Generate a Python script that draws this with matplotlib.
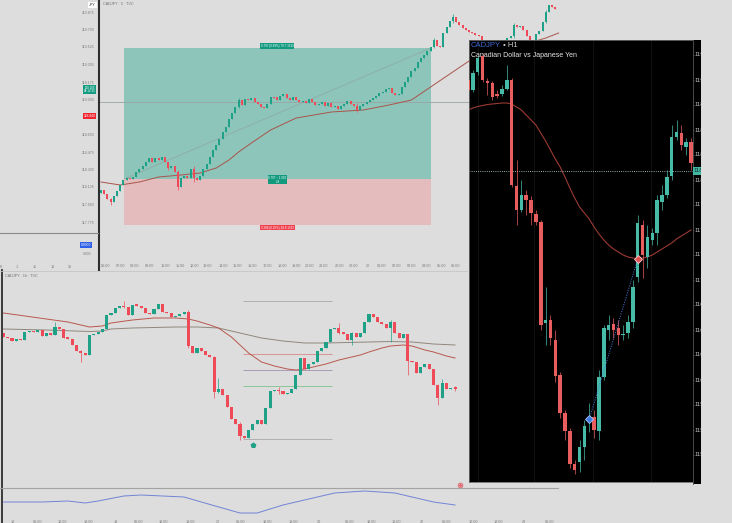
import matplotlib
matplotlib.use("Agg")
import matplotlib.pyplot as plt
import numpy as np

plt.rcParams['font.family'] = ['Liberation Sans', 'DejaVu Sans']

W, H = 732, 523
BG = '#dddddd'
UP, DN = '#1fa187', '#ee4a57'
UP_K, DN_K = '#45bba8', '#e85d5d'

# ---------------- 5-minute chart (top middle) ----------------
mid_first_open = 118.07
mid_close = [118.10, 118.06, 118.01, 117.98, 118.04, 118.09, 118.15, 118.20, 118.22, 118.21,
             118.23, 118.28, 118.31, 118.34, 118.38, 118.42, 118.38, 118.42, 118.40, 118.43,
             118.38, 118.32, 118.34, 118.28, 118.13, 118.22, 118.24, 118.22, 118.31, 118.22,
             118.20, 118.24, 118.31, 118.36, 118.43, 118.50, 118.55, 118.61, 118.68, 118.73,
             118.81, 118.87, 118.93, 119.00, 118.95, 119.01, 119.00, 119.02, 118.98, 118.96,
             118.93, 118.92, 118.96, 119.03, 119.025, 119.00, 119.04, 119.06, 119.02, 119.00,
             119.03, 119.00, 118.98, 118.99, 118.97, 119.01, 118.98, 118.95, 118.96, 118.98,
             118.94, 118.97, 118.93, 118.94, 118.91, 118.94, 118.96, 118.99, 118.96, 118.94,
             118.90, 118.94, 118.96, 118.98, 119.00, 119.02, 119.04, 119.07, 119.08, 119.11,
             119.12, 119.07, 119.05, 119.06, 119.13, 119.18, 119.23, 119.29, 119.32, 119.38,
             119.42, 119.45, 119.49, 119.53, 119.60, 119.54, 119.53, 119.67, 119.73, 119.79,
             119.83, 119.78, 119.75, 119.72, 119.70, 119.68, 119.67, 119.65, 119.64, 119.58,
             119.54, 119.50, 119.52, 119.48, 119.50, 119.54, 119.58, 119.62, 119.64, 119.75,
             119.73, 119.74, 119.70, 119.64, 119.58, 119.60, 119.66, 119.69, 119.78, 119.88,
             119.95, 119.93, 119.91]
mid_wick_idx = [3, 21, 24, 29, 43, 80, 104, 110, 129, 139]
mid_wick_hi = [118.02, 118.35, 118.30, 118.34, 119.02, 118.97, 119.62, 119.86, 119.77, 119.90]
mid_wick_lo = [117.95, 118.30, 118.10, 118.18, 118.92, 118.88, 119.52, 119.77, 119.62, 119.77]
mid_ma_idx = [0, 6, 12, 18, 25, 31, 36, 40, 43, 47, 53, 61, 72, 82, 90, 97, 103, 109, 115, 139, 143]
mid_ma = [118.18, 118.15, 118.18, 118.23, 118.25, 118.27, 118.32, 118.40, 118.48, 118.57,
          118.70, 118.82, 118.88, 118.90, 118.95, 119.00, 119.13, 119.26, 119.39, 119.62, 119.67]
mid_level = 118.985
pos_start, pos_end = 7.2, 103.1
pos_entry, pos_tp, pos_sl = 118.21, 119.52, 117.75
pos_labels = ['0.797 (0.69%) 79.7 3333', '0.797 \u00f7 1.000\n2.8', '0.288 (0.25%) 28.8 1333']
mid_time_pos = [1.6, 6.2, 10.6, 15.3, 20.0, 24.7, 29.1, 33.4, 38.1, 42.5, 47.2, 51.9, 56.6,
                60.9, 65.3, 69.7, 74.4, 78.8, 83.4, 87.8, 92.5, 97.2, 101.9, 106.3, 110.9]
mid_time_labels = ['06:00', '07:00', '08:00', '09:00', '10:00', '11:00', '12:00', '13:00',
                   '14:00', '15:00', '16:00', '17:00', '18:00', '19:00', '20:00', '21:00',
                   '22:00', '23:00', '20', '01:00', '02:00', '03:00', '04:00', '05:00', '06:00']

# ---------------- left panel price scale ----------------
left_ticks = [119.875, 119.700, 119.525, 119.350, 119.175, 119.000,
              118.650, 118.475, 118.300, 118.125, 117.950, 117.775]
left_last_price = 119.105
left_red_price = 118.840
left_day_pos = [1, 17, 35, 53, 70]
left_day_labels = ['29', '1', '11', '18', '25']

# ---------------- H1 chart (black) ----------------
k_open = [119.20, 119.10, 119.28, 119.44, 119.19, 119.17, 119.06, 119.06, 119.11, 119.20,
          118.14, 117.90, 118.05, 118.00, 117.86, 117.78, 116.77, 116.80, 116.60, 116.25,
          115.87, 115.69, 115.36, 115.38, 115.53, 115.80, 115.83, 115.69, 116.23, 116.70,
          116.76, 116.72, 116.65, 116.67, 116.78, 117.23, 117.75, 117.43, 117.60, 117.67,
          117.98, 118.05, 118.24, 118.63, 118.67, 118.53, 118.58]
k_close = [119.10, 119.27, 119.42, 119.20, 119.17, 119.03, 119.04, 119.11, 119.20, 118.15,
           117.90, 118.05, 118.00, 117.87, 117.78, 116.75, 116.80, 116.62, 116.24, 115.87,
           115.69, 115.36, 115.30, 115.53, 115.74, 115.82, 115.70, 116.23, 116.72, 116.75,
           116.70, 116.65, 116.66, 116.78, 117.13, 117.77, 117.45, 117.63, 117.67, 118.00,
           118.05, 118.23, 118.63, 118.68, 118.55, 118.58, 118.37]
k_high = [119.22, 119.30, 119.45, 119.47, 119.22, 119.19, 119.10, 119.15, 119.35, 119.22,
          118.40, 118.20, 118.10, 118.04, 117.90, 117.80, 117.13, 116.85, 116.70, 116.28,
          115.90, 115.72, 115.40, 115.60, 115.80, 115.97, 115.90, 116.30, 116.75, 116.85,
          116.82, 116.80, 116.75, 116.85, 117.20, 117.85, 117.80, 117.75, 117.72, 118.05,
          118.15, 118.30, 118.75, 118.80, 118.75, 118.62, 118.62]
k_low = [119.08, 119.08, 119.25, 119.18, 119.05, 119.00, 119.02, 119.04, 119.10, 118.13,
         117.75, 117.88, 117.85, 117.75, 117.75, 116.70, 116.55, 116.55, 116.18, 115.82,
         115.60, 115.32, 115.26, 115.28, 115.40, 115.68, 115.62, 115.60, 116.20, 116.60,
         116.62, 116.55, 116.60, 116.62, 116.72, 117.18, 117.22, 117.32, 117.55, 117.55,
         117.90, 118.02, 118.20, 118.60, 118.50, 118.45, 118.30]
k_ma = [118.90, 118.92, 118.935, 118.945, 118.955, 118.96, 118.965, 118.97, 118.97, 118.96,
        118.93, 118.90, 118.85, 118.80, 118.75, 118.67, 118.59, 118.50, 118.41, 118.33,
        118.23, 118.12, 118.02, 117.93, 117.87, 117.81, 117.73, 117.66, 117.60, 117.55,
        117.51, 117.48, 117.45, 117.43, 117.42, 117.415, 117.42, 117.43, 117.45, 117.48,
        117.51, 117.54, 117.57, 117.61, 117.64, 117.67, 117.70]
k_ticks = [119.45, 119.20, 118.95, 118.70, 118.45, 118.20, 117.95, 117.70, 117.45,
           117.20, 116.95, 116.70, 116.45, 116.20, 115.95, 115.70, 115.45]
k_last = 118.29
k_signal_idx = [25, 35]
k_signal_price = [115.81, 117.41]
k_grid = [2.06, 13.6, 25.8, 37.7]

# ---------------- 1h chart (bottom) ----------------
bot_first_open = 116.67
bot_close = [116.63, 116.62, 116.59, 116.61, 116.60, 116.68, 116.69, 116.68, 116.70, 116.64,
             116.67, 116.65, 116.73, 116.71, 116.62, 116.615, 116.55, 116.49, 116.47, 116.45,
             116.65, 116.66, 116.68, 116.71, 116.85, 116.87, 116.92, 116.94, 116.93, 116.85,
             116.95, 116.945, 116.92, 116.87, 116.86, 116.91, 116.96, 116.88, 116.87, 116.83,
             116.84, 116.86, 116.88, 116.54, 116.47, 116.52, 116.49, 116.45, 116.43, 116.08,
             116.11, 116.05, 115.93, 115.81, 115.76, 115.64, 115.62, 115.70, 115.76, 115.80,
             115.76, 115.92, 116.09, 116.10, 116.09, 116.06, 116.07, 116.11, 116.25, 116.42,
             116.31, 116.36, 116.38, 116.49, 116.52, 116.58, 116.71, 116.72, 116.67, 116.665,
             116.60, 116.67, 116.63, 116.67, 116.78, 116.86, 116.83, 116.78, 116.76, 116.72,
             116.78, 116.67, 116.62, 116.66, 116.39, 116.38, 116.27, 116.33, 116.36, 116.31,
             116.15, 116.02, 116.17, 116.11, 116.12, 116.115]
bot_wick_idx = [12, 18, 28, 43, 49, 50, 55, 64, 78, 81, 90, 94, 101, 102, 105]
bot_wick_hi = [116.78, 116.50, 116.99, 116.90, 116.44, 116.22, 115.78, 116.13, 116.77, 116.68,
               116.80, 116.42, 116.16, 116.21, 116.14]
bot_wick_lo = [116.70, 116.38, 116.92, 116.52, 116.02, 116.07, 115.60, 116.06, 116.66, 116.55,
               116.58, 116.25, 115.95, 116.02, 116.09]
bot_fast_idx = [0, 5, 10, 15, 20, 23, 25, 30, 35, 40, 43, 45, 48, 50, 53, 55, 57, 60, 63, 66,
                68, 70, 72, 75, 78, 80, 83, 85, 88, 90, 93, 95, 98, 100, 103, 105]
bot_fast = [116.87, 116.84, 116.81, 116.78, 116.73, 116.74, 116.77, 116.80, 116.82, 116.82,
            116.81, 116.79, 116.75, 116.72, 116.63, 116.55, 116.47, 116.38, 116.34, 116.31,
            116.30, 116.31, 116.33, 116.36, 116.40, 116.42, 116.45, 116.48, 116.52, 116.54,
            116.55, 116.54, 116.50, 116.48, 116.44, 116.42]
bot_slow_idx = [0, 10, 20, 23, 25, 30, 35, 40, 45, 50, 55, 58, 60, 65, 70, 75, 80, 85, 90, 95, 100, 105]
bot_slow = [116.71, 116.70, 116.685, 116.69, 116.71, 116.72, 116.725, 116.73, 116.73, 116.72,
            116.67, 116.64, 116.62, 116.59, 116.57, 116.57, 116.575, 116.58, 116.585, 116.58,
            116.56, 116.55]
bot_levels = [116.99, 116.46, 116.30, 116.14, 115.61]
bot_level_colors = ['#a9a9a9', '#d98888', '#a38fae', '#7fc48e', '#a9a9a9']
bot_level_span = (55.6, 76.5)
bot_arrow_idx, bot_arrow_price = 58, 115.55
ind_idx = [0, 9, 15, 19, 22, 28, 32, 42, 46, 55, 59, 65, 73, 77, 84, 91, 96, 100, 105]
ind_val = [18, 18, 19, 17, 19, 24, 25, 23, 18, 7, 7, 15, 23, 27, 29, 27, 22, 18, 15]
bot_time_pos = [2.1, 7.9, 13.7, 19.8, 26.0, 31.4, 37.2, 43.5, 49.8, 55.1, 61.4, 67.4, 73.3,
                80.5, 85.6, 91.4, 97.2, 103.0, 109.3, 115.1, 120.9, 127.0]
bot_time_labels = ['18', '06:00', '12:00', '18:00', '19', '06:00', '12:00', '18:00', '20',
                   '06:00', '12:00', '18:00', '21', '06:00', '12:00', '18:00', '22', '06:00',
                   '12:00', '18:00', '23', '06:00']

# ---------------- helpers ----------------
fig = plt.figure(figsize=(W / 100, H / 100), dpi=100)
fig.patch.set_facecolor(BG)


def px_axes(x0, y0, x1, y1, z=1):
    ax = fig.add_axes([x0 / W, 1 - y1 / H, (x1 - x0) / W, (y1 - y0) / H])
    ax.set_zorder(z)
    for s in ax.spines.values():
        s.set_visible(False)
    ax.set_facecolor(BG)
    ax.tick_params(length=0, labelsize=2.7, colors='#7d7d7d', pad=1.5)
    ax.set_yticks([])
    ax.set_xticks([])
    return ax


def candles(ax, opens, closes, highs, lows, width, up, dn, minh, z=3):
    o = np.asarray(opens, float)
    c = np.asarray(closes, float)
    x = np.arange(len(c))
    cols = np.where(c >= o, up, dn)
    ax.vlines(x, lows, highs, colors=cols, lw=0.5, zorder=z)
    ax.bar(x, np.maximum(np.abs(c - o), minh), width, np.minimum(o, c),
           color=cols, linewidth=0, zorder=z + 0.1)


def ohlc_from_closes(first_open, closes, widx, whi, wlo):
    c = np.asarray(closes, float)
    o = np.concatenate([[first_open], c[:-1]])
    hi = np.maximum(o, c)
    lo = np.minimum(o, c)
    hi[widx] = np.maximum(hi[widx], whi)
    lo[widx] = np.minimum(lo[widx], wlo)
    return o, c, hi, lo


# ---------------- frame lines (layout) ----------------
frame = fig.add_axes([0, 0, 1, 1])
frame.set_xlim(0, W)
frame.set_ylim(H, 0)
frame.axis('off')
frame.set_zorder(10)
frame.plot([98.7, 98.7], [0, 270], color='#2e2e2e', lw=1.5)
frame.plot([0, 98], [233, 233], color='#8a8a8a', lw=0.8)
frame.plot([1.8, 1.8], [270, 523], color='#2e2e2e', lw=1.3)
frame.plot([0, 558], [488, 488], color='#a3a3a3', lw=0.8)
frame.plot([0, 467], [271, 271], color='#c6c6c6', lw=0.6)

# ---------------- left panel ----------------
axl = px_axes(0, 0, 98, 262)
axl.set_ylim(117.38, 120.00)
axl.set_xlim(0, 98)
for t in left_ticks:
    axl.text(95, t, f'{t:.3f}', ha='right', va='center', fontsize=2.6, color='#7d7d7d')
axl.text(95.5, left_last_price, f'{left_last_price:.3f}\n04:12:35', ha='right', va='center',
         fontsize=2.2, color='white', linespacing=0.9,
         bbox=dict(facecolor='#139c80', edgecolor='none', pad=0.6))
axl.text(95.5, left_red_price, f'{left_red_price:.3f}', ha='right', va='center',
         fontsize=2.4, color='white', bbox=dict(facecolor='#f0242f', edgecolor='none', pad=0.6))
axl.text(0.975, 0.99, 'JPY', transform=axl.transAxes, ha='right', va='top', fontsize=2.6,
         color='#222222', bbox=dict(facecolor='white', edgecolor='none', pad=0.7))
axl.text(0.93, 0.065, '0.0000', transform=axl.transAxes, ha='right', va='center',
         fontsize=2.4, color='white', bbox=dict(facecolor='#2f5fe8', edgecolor='none', pad=0.5))
axl.text(0.93, 0.03, '0.000', transform=axl.transAxes, ha='right', va='center',
         fontsize=2.4, color='#7d7d7d')
axl.set_xticks(left_day_pos)
axl.set_xticklabels(left_day_labels)
axl.tick_params(axis='x', pad=2)

# ---------------- middle 5m chart ----------------
axm = px_axes(100, 0, 701, 262)
axm.set_ylim(117.38, 120.00)
axm.set_xlim(-0.31, 187.5)
axm.fill_between([pos_start, pos_end], pos_entry, pos_tp, color='#8dc5ba', lw=0, zorder=1)
axm.fill_between([pos_start, pos_end], pos_sl, pos_entry, color='#e4bcbe', lw=0, zorder=1)
axm.axhline(mid_level, color='#9aa4a4', lw=0.6, zorder=1.5)
axm.plot([pos_start, pos_end], [pos_entry, pos_tp], color='#8ea8a2', lw=0.5, zorder=1.6)
axm.plot(mid_ma_idx, mid_ma, color='#a9544b', lw=0.7, zorder=2)
mo, mc, mh, ml = ohlc_from_closes(mid_first_open, mid_close, mid_wick_idx, mid_wick_hi, mid_wick_lo)
candles(axm, mo, mc, mh, ml, 0.62, UP, DN, 0.006)
xc = (pos_start + pos_end) / 2
axm.annotate(pos_labels[0], (xc, pos_tp), xytext=(0, 1.3), textcoords='offset points',
             ha='center', va='center', fontsize=2.2, color='white', zorder=5,
             bbox=dict(facecolor='#129a7f', edgecolor='none', pad=0.5))
axm.annotate(pos_labels[1], (xc, pos_entry), xytext=(0, -0.5), textcoords='offset points',
             ha='center', va='center', fontsize=2.2, color='white', zorder=5, linespacing=0.9,
             bbox=dict(facecolor='#129a7f', edgecolor='none', pad=0.5))
axm.annotate(pos_labels[2], (xc, pos_sl), xytext=(0, -2.0), textcoords='offset points',
             ha='center', va='center', fontsize=2.2, color='white', zorder=5,
             bbox=dict(facecolor='#f0404e', edgecolor='none', pad=0.5))
axm.text(0.005, 0.993, 'CADJPY \u00b7 5 \u00b7 TVC', transform=axm.transAxes, ha='left',
         va='top', fontsize=2.7, color='#6f6f6f')
axm.set_xticks(mid_time_pos)
axm.set_xticklabels(mid_time_labels)

# ---------------- bottom 1h chart ----------------
axb = px_axes(3, 271, 560, 486)
axb.set_ylim(115.14, 117.29)
axb.set_xlim(-0.1, 129.4)
axb.plot(bot_slow_idx, bot_slow, color='#8f877c', lw=0.7, zorder=2)
axb.plot(bot_fast_idx, bot_fast, color='#b9574d', lw=0.7, zorder=2)
axb.hlines(bot_levels, *bot_level_span, colors=bot_level_colors, lw=0.6, zorder=1.5)
bo, bc, bh, bl = ohlc_from_closes(bot_first_open, bot_close, bot_wick_idx, bot_wick_hi, bot_wick_lo)
candles(axb, bo, bc, bh, bl, 0.72, UP, DN, 0.012)
axb.plot([bot_arrow_idx], [bot_arrow_price], marker='p', ms=3.2, color='#1fa187', zorder=4)
axb.text(0.004, 0.985, 'CADJPY \u00b7 1h \u00b7 TVC', transform=axb.transAxes, ha='left',
         va='top', fontsize=2.7, color='#6f6f6f')
axb.plot([0.8205], [0.005], transform=axb.transAxes, marker='o', ms=3.4, mfc='none',
         mec='#e05a62', mew=0.6, clip_on=False, zorder=6)
axb.plot([0.8205], [0.005], transform=axb.transAxes, marker='o', ms=1.0, color='#e05a62',
         clip_on=False, zorder=6)

axi = px_axes(3, 488, 560, 518)
axi.set_xlim(-0.1, 129.4)
axi.set_ylim(2, 32)
axi.plot(ind_idx, ind_val, color='#7084d6', lw=0.7)
axi.set_xticks(bot_time_pos)
axi.set_xticklabels(bot_time_labels)
axi.tick_params(axis='x', pad=1.2)

# ---------------- black H1 chart ----------------
axk = px_axes(469, 40, 693, 482, z=5)
axk.set_facecolor('black')
axk.set_xlim(0.2, 46.4)
axk.set_ylim(115.18, 119.60)
for g in k_grid:
    axk.axvline(g, color='#151515', lw=0.6, zorder=0.5)
axk.plot(np.arange(len(k_ma)), k_ma, color='#9c3a33', lw=0.8, zorder=2)
axk.axhline(k_last, color='#bfe8dd', lw=0.6, ls=(0, (1, 1.6)), zorder=2.5)
candles(axk, k_open, k_close, k_high, k_low, 0.72, UP_K, DN_K, 0.012)
axk.plot(k_signal_idx, k_signal_price, color='#4a7fe0', lw=0.7, ls=(0, (1, 1.5)), zorder=4)
axk.plot([k_signal_idx[0]], [k_signal_price[0]], marker='D', ms=3.6, mfc='#3d7be0',
         mec='#a8c6ff', mew=0.6, zorder=5)
axk.plot([k_signal_idx[1]], [k_signal_price[1]], marker='D', ms=3.6, mfc='#e05050',
         mec='#ffd0d0', mew=0.6, zorder=5)
for s in ['top', 'left', 'bottom']:
    axk.spines[s].set_visible(True)
    axk.spines[s].set_color('#6a6a6a')
    axk.spines[s].set_linewidth(0.6)
t1 = axk.text(0.009, 0.9865, 'CADJPY', transform=axk.transAxes, ha='left', va='center',
              fontsize=5.5, color='#3f68d0')
axk.annotate(' \u2022 H1', xy=(1, 0.5), xycoords=t1, ha='left', va='center',
             fontsize=5.5, color='#d0d0d0')
axk.text(0.009, 0.966, 'Canadian Dollar vs Japanese Yen', transform=axk.transAxes,
         ha='left', va='center', fontsize=5.0, color='#e6e6e6')

axs = px_axes(693, 40, 701, 484, z=5)
axs.set_facecolor('black')
axs.set_xlim(0, 1)
axs.set_ylim(115.18 - 0.02, 119.60)
axs.spines['left'].set_visible(True)
axs.spines['left'].set_color('#555555')
axs.spines['left'].set_linewidth(0.6)
axs.hlines(k_ticks, 0, 0.15, colors='#888888', lw=0.5)
for t in k_ticks:
    axs.text(0.2, t, f'{t:.3f}', ha='left', va='center', fontsize=4.3, color='#bdbdbd',
             clip_on=True)
axs.text(0.12, k_last, f'{k_last:.3f}', ha='left', va='center', fontsize=4.3, color='#0d2f2a',
         clip_on=True, bbox=dict(facecolor='#41b8a4', edgecolor='none', pad=0.8))

fig.savefig('out.png', dpi=100, facecolor=BG)
